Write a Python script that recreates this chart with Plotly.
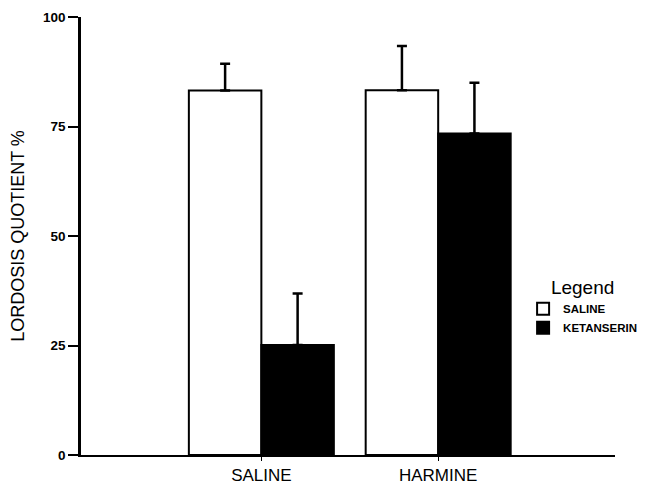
import plotly.graph_objects as go

groups = ["SALINE", "HARMINE"]
saline_vals = [83.2, 83.3]
saline_err = [6.1, 10.1]
ketanserin_vals = [25.1, 73.4]
ketanserin_err = [11.8, 11.6]
y_ticks = [0, 25, 50, 75, 100]

font_family = "Liberation Sans, Arial, sans-serif"

fig = go.Figure()
fig.add_trace(go.Bar(
    x=groups, y=saline_vals, name="SALINE",
    marker=dict(color="white", line=dict(color="black", width=2)),
    error_y=dict(type="data", array=saline_err, arrayminus=[0, 0], symmetric=False,
                 color="black", thickness=2.5, width=5),
))
fig.add_trace(go.Bar(
    x=groups, y=ketanserin_vals, name="KETANSERIN",
    marker=dict(color="black", line=dict(color="black", width=2)),
    error_y=dict(type="data", array=ketanserin_err, arrayminus=[0, 0], symmetric=False,
                 color="black", thickness=2.5, width=5),
))

fig.update_layout(
    width=645, height=484,
    margin=dict(l=81, r=30, t=17, b=29, autoexpand=False),
    paper_bgcolor="white", plot_bgcolor="white",
    barmode="group", bargap=0.18, bargroupgap=0,
    font=dict(family=font_family, color="black"),
    showlegend=True,
    legend=dict(
        title=dict(text="Legend", side="top center",
                   font=dict(size=19, family=font_family, weight="normal")),
        x=0.811, xanchor="left", y=0.443, yanchor="top",
        xref="container", yref="container",
        font=dict(size=11.5, family=font_family, weight="bold"),
        bgcolor="rgba(0,0,0,0)", tracegroupgap=2,
    ),
    xaxis=dict(
        range=[-1.02, 2.0], showline=True, linecolor="black", linewidth=2,
        ticks="outside", ticklen=4, tickwidth=1, tickcolor="black",
        tickfont=dict(size=17, family=font_family),
        showgrid=False, zeroline=False, automargin=False,
    ),
    yaxis=dict(
        range=[0, 100], tickvals=y_ticks, showline=True, linecolor="black", linewidth=2.5,
        ticks="outside", ticklen=10, tickwidth=1.5, tickcolor="black",
        tickfont=dict(size=13.5, family=font_family, weight="bold"),
        title=dict(text="LORDOSIS QUOTIENT %", font=dict(size=18, family=font_family), standoff=14),
        showgrid=False, zeroline=False, automargin=False,
    ),
)

fig.write_html("out.html", config={"displayModeBar": False},
               post_script="document.body.style.margin='0';")
